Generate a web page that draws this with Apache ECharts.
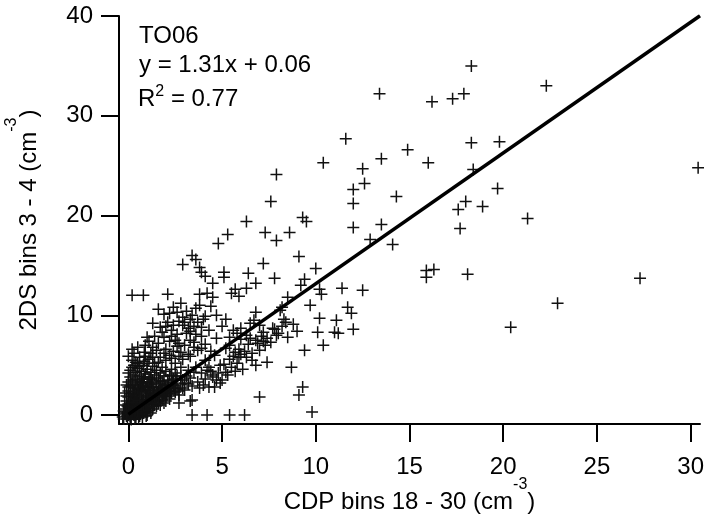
<!DOCTYPE html>
<html><head><meta charset="utf-8">
<script src="https://cdn.jsdelivr.net/npm/echarts@6/dist/echarts.min.js"></script>
<style>html,body{margin:0;padding:0;background:#fff}#c{width:704px;height:520px}</style>
</head><body><div id="c"></div>
<script>
const FONT = 'Liberation Sans, Arial, Helvetica, sans-serif';
const xTicks = [0, 5, 10, 15, 20, 25, 30];
const yTicks = [0, 10, 20, 30, 40];
const xTitle = 'CDP bins 18 - 30 (cm{sup|-3})';
const yTitle = '2DS bins 3 - 4 (cm{sup|-3})';
const annotFlight = 'TO06';
const annotFit = 'y = 1.31x + 0.06';
const annotR2 = '{n|R}{s|2}{n| = 0.77}';
const fitX = [0, 30.5];
const fitY = [0.06, 40.02];

const pointsUpper = [[18.3,35.0],[22.3,33.0],[13.4,32.2],[16.2,31.4],[17.3,31.7],[17.9,32.2],[11.6,27.7],[18.3,27.3],[19.8,27.4],[14.9,26.6],[13.5,25.7],[16.0,25.3],[10.4,25.3],[18.4,24.6],[12.5,24.7],[30.4,24.8],[7.9,24.1],[12.6,23.2],[12.0,22.6],[19.7,22.7],[14.3,21.9],[7.6,21.4],[12.0,21.2],[18.0,21.4],[18.9,20.9],[17.6,20.6],[21.3,19.7],[9.3,19.8],[9.5,19.4],[6.3,19.4],[13.5,19.1],[17.7,18.7],[12.0,18.8],[7.3,18.3],[8.6,18.3],[5.3,18.1],[12.9,17.6],[7.9,17.5],[4.8,17.2],[14.1,17.1],[3.4,16.0],[9.1,15.9],[3.6,15.6],[2.9,15.1],[7.2,15.2],[3.8,14.8],[10.0,14.7],[15.9,14.5],[16.3,14.6],[6.4,14.2],[3.9,14.3],[5.1,14.3],[18.1,14.1],[4.1,13.9],[15.9,13.8],[5.1,13.8],[7.8,13.7],[9.4,13.6],[27.3,13.7],[6.8,13.2],[4.5,13.2],[9.2,13.0],[6.3,12.7],[10.2,12.6],[11.4,12.7],[12.5,12.5],[5.7,12.6],[22.9,11.2],[20.4,8.8],[12.0,8.6],[11.7,10.8],[11.9,10.2],[11.1,9.5],[11.0,8.3],[11.2,8.2]];

const pointsMid = [[4.2,12.2],[0.2,12.0],[0.8,12.0],[2.1,12.1],[3.8,12.1],[4.5,11.8],[5.5,12.2],[5.9,11.9],[8.5,11.8],[10.3,12.1],[2.8,11.2],[3.8,11.0],[9.7,11.0],[3.6,10.7],[8.2,10.8],[2.6,10.3],[2.2,10.2],[6.8,10.3],[8.1,10.5],[3.4,10.0],[4.7,10.0],[2.9,9.8],[10.2,9.7],[6.7,9.5],[3.0,9.3],[3.7,9.3],[2.1,9.3],[1.3,9.2],[8.4,9.3],[8.3,9.6],[2.9,9.0],[3.3,9.6],[3.5,8.9],[7.7,8.7],[4.3,8.5],[5.6,8.5],[6.0,8.7],[2.3,8.5],[1.8,8.3],[3.1,8.2],[3.3,8.4],[10.1,8.3],[8.0,8.2],[5.8,8.2],[7.2,8.3],[6.3,8.0],[7.9,8.0],[1.0,7.8],[4.7,7.7],[5.4,7.8],[6.0,7.6],[8.5,7.8],[6.5,7.7],[7.4,7.7],[2.5,7.5],[3.3,7.5],[2.2,7.4],[6.8,7.5],[7.2,7.4],[2.7,7.2],[2.6,6.9],[3.5,7.3],[3.5,6.8],[7.3,7.0],[5.4,7.0],[10.4,7.0],[3.7,6.5],[3.9,6.7],[5.2,6.7],[7.0,6.5],[9.4,6.5],[5.7,6.3],[5.9,5.8],[6.3,5.8],[6.6,5.5],[1.5,6.5],[1.2,6.2],[0.85,6.3],[0.6,5.8],[1.7,5.8],[2.2,6.0],[4.6,6.0],[6.0,6.1],[1.6,10.6],[2.4,9.0],[4.0,9.6],[4.4,10.9],[2.0,8.9],[3.9,7.9],[4.1,7.1],[4.4,6.4],[5.0,8.9],[6.5,9.2],[7.0,9.0],[5.2,9.6],
[0.3,6.2],[0.5,6.8],[0.9,7.0],[1.1,7.4],[1.3,6.8],[1.4,7.9],[1.6,7.2],[1.7,8.8],[1.9,7.8],[2.0,6.6],[2.3,7.9],[2.4,6.4],[2.6,8.1],[2.8,6.3],[3.0,7.0],[3.2,6.1],[1.9,10.1],[2.4,10.8],[2.7,9.4],[3.1,10.4],[3.2,8.7],[3.6,8.1],[3.9,8.8],[4.1,9.9],[0.9,5.9],[1.3,5.8],[1.9,6.2],[2.3,5.7],[2.7,5.9],
[5.6,5.9],[5.9,6.6],[6.2,6.4],[6.4,7.1],[6.6,6.2],[6.9,7.2],[7.1,7.9],[7.6,7.3],[7.8,8.6],[8.2,8.9],[8.8,9.1],[9.0,8.4]];

const pointsLow = [[8.7,4.8],[9.3,2.8],[9.1,2.0],[7.0,1.8],[9.8,0.3],[3.4,0.0],[4.2,0.0],[5.4,0.0],[6.2,0.0],[3.4,1.5],[3.3,1.4],[2.7,1.2],[4.3,2.8],[4.7,3.5],[5.0,3.5],[3.3,3.7],[4.5,3.8],[4.2,4.5],[4.5,4.0],[4.9,3.2],[4.6,2.8],[3.8,2.7],[5.2,4.3],[5.5,4.8],[5.8,5.2],[5.4,5.6],[3.6,4.8],[3.9,4.2],[4.3,4.8],[4.9,5.0],[4.1,5.5],[3.2,4.5],[3.5,4.3],[2.8,4.8],[2.9,5.6],[3.3,5.9],[2.5,5.2],[2.0,5.5],
[3.4,2.9],[3.7,3.3],[4.0,3.0],[4.1,3.6],[4.4,4.4],[4.8,4.2],[5.1,5.1],[5.3,4.0],[6.1,4.6],[5.7,4.4],[6.8,5.0],[7.4,5.3]];

const pointsCluster = [[-0.3,-0.2],[-0.2,0.1],[-0.1,-0.1],[0.0,0.0],[0.05,0.3],[0.1,-0.3],[0.15,0.2],[0.2,0.1],[0.3,0.0],[0.4,-0.2],[0.5,0.1],[0.6,-0.1],[0.8,0.2],[1.0,0.0],[0.7,0.3],
[-0.2,0.6],[0.0,0.8],[0.1,0.5],[0.2,0.9],[0.3,0.6],[0.4,1.0],[0.5,0.7],[0.6,0.4],[0.7,0.9],[0.8,0.5],[0.9,1.0],[1.0,0.3],[1.1,0.7],[1.3,0.6],[1.5,0.9],[1.2,0.2],
[-0.1,1.4],[0.0,1.8],[0.1,1.2],[0.2,1.6],[0.3,2.0],[0.4,1.3],[0.5,1.7],[0.6,1.1],[0.7,1.9],[0.8,1.5],[0.9,1.2],[1.0,1.8],[1.1,1.4],[1.2,2.0],[1.3,1.1],[1.4,1.6],[1.5,1.3],[1.6,1.9],[1.8,1.5],[2.0,1.8],[2.2,1.6],[1.7,1.0],[1.9,1.2],
[0.0,2.4],[0.1,2.9],[0.2,2.2],[0.3,2.7],[0.4,3.0],[0.5,2.3],[0.6,2.6],[0.7,2.2],[0.8,2.9],[0.9,2.4],[1.0,2.7],[1.1,2.2],[1.2,3.0],[1.3,2.5],[1.4,2.2],[1.5,2.8],[1.6,2.4],[1.7,3.1],[1.8,2.6],[1.9,2.2],[2.0,2.9],[2.1,2.4],[2.3,2.7],[2.4,3.0],[2.5,2.3],[2.6,2.6],[2.8,3.1],[2.2,2.1],[2.7,2.0],
[0.0,3.3],[0.1,3.8],[0.2,3.5],[0.3,4.0],[0.5,3.4],[0.6,3.9],[0.7,3.2],[0.8,3.6],[0.9,4.1],[1.0,3.3],[1.1,3.8],[1.3,3.5],[1.4,4.0],[1.5,3.3],[1.6,3.7],[1.8,3.4],[1.9,3.9],[2.1,3.5],[2.2,4.0],[2.4,3.6],[2.6,3.9],[2.9,3.5],[3.1,3.9],[3.0,3.2],
[0.1,4.5],[0.2,4.8],[0.4,4.3],[0.5,4.7],[0.7,4.4],[0.8,5.0],[1.0,4.6],[1.2,4.3],[1.3,4.9],[1.5,4.5],[1.7,4.2],[1.8,4.8],[2.0,4.4],[2.3,4.6],[2.5,4.2],
[0.2,5.5],[0.4,5.3],[0.85,5.4],[1.1,5.6],[1.4,5.2],[0.5,5.2],[1.6,5.3],
[0.05,0.6],[0.25,0.35],[0.35,0.85],[0.45,0.45],[0.55,1.2],[0.65,0.7],[0.75,1.4],[0.85,0.8],[0.95,1.5],[1.05,1.1],[1.15,1.7],[1.25,1.3],[1.35,2.1],[1.45,1.5],[1.55,2.3],[1.65,1.7],[1.75,2.5],[1.85,1.9],[1.95,2.7],[2.05,2.1],[2.15,3.0],[2.25,2.4],[2.35,3.3],[2.45,2.7],[2.55,3.5],[0.15,1.0],[0.25,1.4],[0.35,1.8],[0.45,2.1],[0.55,2.5],[0.65,2.9],[0.75,3.3],[0.85,3.8],[0.95,2.0],[1.05,2.4],[1.15,2.8],[1.25,3.2],[-0.15,0.3],[-0.05,0.9],[0.1,-0.1],[0.35,0.2],[0.65,0.1],[0.9,0.6],[1.4,1.0],[1.6,1.4],[2.0,2.3],
[-0.25,-0.4],[-0.05,-0.4],[0.15,-0.45],[0.35,-0.35],[0.55,-0.3],[0.75,-0.2],[0.95,-0.1],[-0.25,0.4],[-0.1,0.2],[0.1,0.15],[0.3,0.3],[0.5,0.4],[0.7,0.55],[0.9,0.35],[1.1,0.45],[1.3,0.85],[-0.2,1.0],[0.0,1.1],[0.2,1.25],[0.4,1.55],[0.6,1.45],[0.8,1.1],[1.0,1.25],[1.2,1.6],[1.4,1.85],[1.6,1.15],[1.8,2.0],[2.0,1.4],[2.2,1.9],[-0.1,1.9],[0.1,2.1],[0.3,2.35],[0.5,2.7],[0.7,2.5],[0.9,2.8],[1.1,3.1],[1.3,2.8],[1.5,2.05],[1.7,2.7],[1.9,3.0],[2.1,3.2],[2.3,2.2],[2.5,2.9],[2.7,2.4],[2.9,2.7],[0.0,2.8],[0.2,3.1],[0.4,3.6],[0.6,3.3],[1.2,3.6],[1.7,3.4],[2.3,3.9],[2.8,3.9],[3.0,2.5],[3.2,3.1],[-0.2,2.2],[-0.1,3.0],[0.0,4.2],[0.3,5.0],[0.6,4.9],[1.0,5.2],[0.2,6.6],[0.0,5.9]];

const scatterData = pointsUpper.concat(pointsMid, pointsLow, pointsCluster);
const fitData = fitX.map((x, i) => [x, fitY[i]]);

const chart = echarts.init(document.getElementById('c'), null, {renderer: 'canvas'});
const supStyle = {fontSize: 16, lineHeight: 16, verticalAlign: 'top', fontFamily: FONT, color: '#000'};
chart.setOption({
  animation: false,
  backgroundColor: '#fff',
  grid: {left: 119, right: 4, top: 16, bottom: 96, containLabel: false, outerBoundsMode: 'none'},
  xAxis: {
    type: 'value', min: -0.5, max: 30.5,
    axisLine: {show: true, onZero: false, lineStyle: {color: '#000', width: 2}},
    axisTick: {show: true, inside: false, length: 18, customValues: xTicks, lineStyle: {color: '#000', width: 2}},
    axisLabel: {customValues: xTicks, fontSize: 24, fontFamily: FONT, color: '#000', margin: 31},
    splitLine: {show: false},
    name: xTitle, nameLocation: 'middle', nameGap: 53, nameMoveOverlap: false,
    nameTextStyle: {fontSize: 24, fontFamily: FONT, color: '#000', lineHeight: 50, rich: {sup: supStyle}}
  },
  yAxis: {
    type: 'value', min: -0.9, max: 40,
    axisLine: {show: true, onZero: false, lineStyle: {color: '#000', width: 2}},
    axisTick: {show: true, inside: false, length: 18, customValues: yTicks, lineStyle: {color: '#000', width: 2}},
    axisLabel: {customValues: yTicks, fontSize: 24, fontFamily: FONT, color: '#000', margin: 26},
    splitLine: {show: false},
    name: yTitle, nameLocation: 'middle', nameGap: 65, nameMoveOverlap: false,
    nameTextStyle: {fontSize: 24, fontFamily: FONT, color: '#000', lineHeight: 50, rich: {sup: supStyle}}
  },
  graphic: [
    {type: 'text', x: 139, y: 36.5, silent: true, style: {text: annotFlight, fontSize: 24, fontFamily: FONT, fill: '#000', align: 'left', verticalAlign: 'middle'}},
    {type: 'text', x: 139, y: 65.5, silent: true, style: {text: annotFit, fontSize: 24, fontFamily: FONT, fill: '#000', align: 'left', verticalAlign: 'middle'}},
    {type: 'text', x: 138, y: 99, silent: true, style: {text: annotR2, fontSize: 24, fontFamily: FONT, fill: '#000', align: 'left', verticalAlign: 'middle',
      rich: {n: {fontSize: 24, lineHeight: 30, fontFamily: FONT, fill: '#000'}, s: {fontSize: 16, lineHeight: 16, verticalAlign: 'top', fontFamily: FONT, fill: '#000'}}}}
  ],
  series: [
    {type: 'scatter', data: scatterData, symbol: 'path://M0,5.25H12V6.75H0ZM5.25,0H6.75V12H5.25Z', symbolSize: 12,
     itemStyle: {color: '#111', opacity: 1}, silent: true},
    {type: 'line', data: fitData, showSymbol: false, symbol: 'none', clip: true, silent: true,
     lineStyle: {color: '#000', width: 3.5}}
  ]
});
</script>
</body></html>
